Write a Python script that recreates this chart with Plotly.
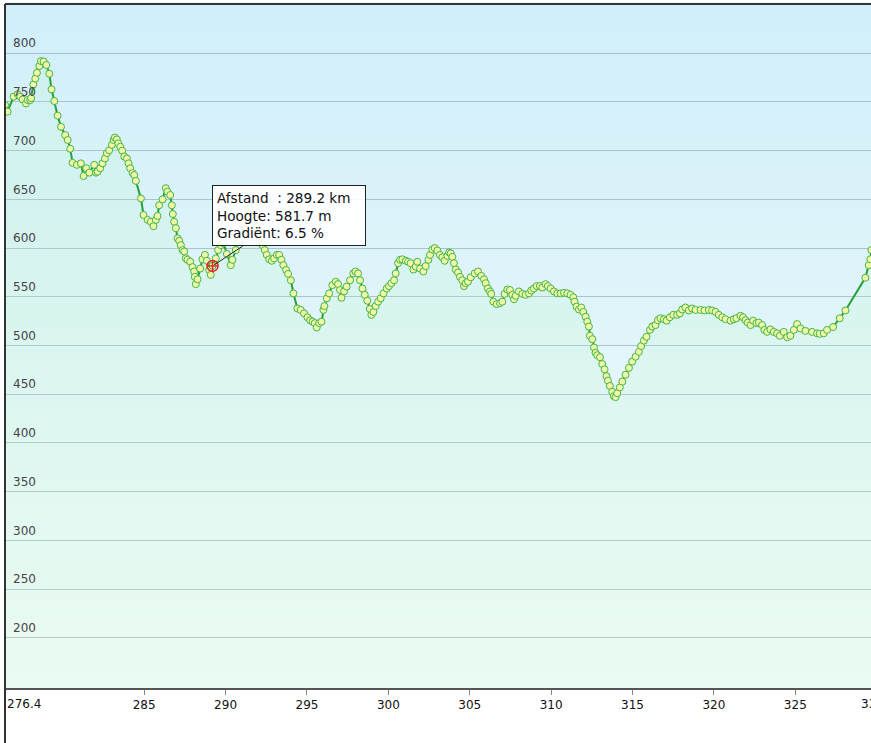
import plotly.graph_objects as go

# elevation profile, distance in km / height in m
DIST = [
    276.45, 276.61, 276.98, 277.23, 277.39, 277.53, 277.74, 277.84, 278.00, 278.05,
    278.19, 278.31, 278.41, 278.56, 278.66, 278.82, 278.99, 279.17, 279.31, 279.48,
    279.68, 279.89, 280.15, 280.30, 280.46, 280.60, 280.87, 281.11, 281.28, 281.44,
    281.63, 281.93, 282.04, 282.14, 282.30, 282.44, 282.59, 282.71, 282.85, 283.02,
    283.12, 283.20, 283.32, 283.41, 283.53, 283.65, 283.78, 283.94, 284.04, 284.14,
    284.29, 284.39, 284.49, 284.80, 284.96, 285.21, 285.41, 285.57, 285.72, 285.82,
    285.92, 286.13, 286.33, 286.43, 286.60, 286.70, 286.76, 286.84, 286.95, 287.05,
    287.15, 287.25, 287.36, 287.46, 287.56, 287.66, 287.83, 287.97, 288.07, 288.11,
    288.17, 288.28, 288.44, 288.58, 288.73, 288.85, 288.99, 289.09, 289.20, 289.40,
    289.54, 289.71, 289.87, 290.08, 290.32, 290.42, 290.63, 290.73, 290.83, 291.10,
    291.45, 291.75, 291.96, 292.12, 292.27, 292.41, 292.53, 292.68, 292.84, 292.98,
    293.15, 293.29, 293.43, 293.55, 293.72, 293.84, 294.01, 294.17, 294.41, 294.62,
    294.82, 295.03, 295.19, 295.34, 295.48, 295.60, 295.75, 295.89, 296.01, 296.07,
    296.22, 296.36, 296.56, 296.77, 296.91, 297.03, 297.12, 297.28, 297.44, 297.65,
    297.85, 297.98, 298.14, 298.26, 298.41, 298.55, 298.71, 298.86, 298.96, 299.08,
    299.22, 299.37, 299.53, 299.70, 299.90, 300.04, 300.19, 300.35, 300.45, 300.60,
    300.72, 300.86, 301.07, 301.21, 301.37, 301.54, 301.68, 301.78, 301.95, 302.15,
    302.29, 302.46, 302.56, 302.70, 302.85, 303.01, 303.17, 303.32, 303.46, 303.62,
    303.73, 303.83, 303.93, 304.03, 304.14, 304.28, 304.40, 304.54, 304.65, 304.75,
    304.89, 305.06, 305.30, 305.51, 305.71, 305.88, 305.98, 306.12, 306.24, 306.32,
    306.45, 306.65, 306.86, 307.00, 307.14, 307.31, 307.47, 307.61, 307.72, 307.82,
    308.02, 308.23, 308.43, 308.64, 308.78, 308.94, 309.11, 309.31, 309.46, 309.66,
    309.80, 309.97, 310.17, 310.38, 310.58, 310.79, 310.99, 311.19, 311.36, 311.44,
    311.56, 311.71, 311.85, 311.97, 312.12, 312.22, 312.32, 312.38, 312.53, 312.63,
    312.73, 312.83, 313.00, 313.14, 313.28, 313.40, 313.49, 313.61, 313.75, 313.85,
    313.96, 314.06, 314.22, 314.37, 314.57, 314.78, 314.98, 315.19, 315.39, 315.53,
    315.70, 315.86, 316.07, 316.21, 316.41, 316.56, 316.72, 316.93, 317.09, 317.29,
    317.50, 317.74, 317.91, 318.05, 318.25, 318.46, 318.66, 318.87, 319.18, 319.42,
    319.69, 319.89, 320.10, 320.30, 320.51, 320.71, 321.02, 321.22, 321.38, 321.63,
    321.79, 321.94, 322.08, 322.25, 322.41, 322.61, 322.76, 322.96, 323.10, 323.27,
    323.47, 323.68, 323.88, 324.05, 324.29, 324.50, 324.70, 324.91, 325.11, 325.32,
    325.62, 326.03, 326.34, 326.50, 326.75, 326.95, 327.32, 327.73, 328.08, 329.30,
    329.51, 329.61, 329.67,
]
ELEV = [
    747.0, 740.0, 755.5, 758.0, 755.5, 752.5, 748.5, 752.0, 752.0, 754.0,
    768.0, 774.0, 780.0, 787.0, 792.0, 791.5, 788.0, 779.0, 763.0, 751.0,
    736.0, 724.5, 716.0, 711.0, 702.0, 687.5, 685.5, 687.0, 674.0, 682.0,
    677.5, 685.5, 677.5, 678.5, 682.0, 687.0, 692.0, 697.5, 700.5, 706.0,
    711.0, 713.5, 711.5, 707.5, 704.0, 700.0, 694.0, 692.0, 687.0, 682.0,
    677.0, 675.0, 669.0, 651.0, 634.0, 629.0, 627.0, 622.5, 629.0, 633.0,
    644.0, 650.0, 661.5, 658.0, 654.5, 644.0, 635.0, 627.0, 620.5, 610.0,
    607.5, 603.0, 598.0, 596.5, 589.5, 588.0, 586.0, 580.5, 576.0, 570.5,
    563.0, 568.0, 579.0, 588.5, 593.0, 587.0, 577.5, 572.5, 581.7, 589.5,
    598.0, 603.0, 605.0, 594.0, 582.5, 588.0, 598.0, 606.5, 608.5, 625.0,
    641.0, 630.5, 622.0, 611.0, 603.0, 598.0, 593.0, 588.5, 587.0, 589.5,
    593.0, 593.0, 588.0, 582.5, 577.5, 573.5, 567.0, 553.5, 538.0, 536.5,
    533.0, 529.0, 526.0, 524.5, 523.0, 518.5, 523.0, 524.5, 536.5, 540.5,
    548.5, 553.5, 562.0, 565.5, 563.0, 557.0, 549.0, 555.5, 560.5, 567.0,
    574.0, 576.0, 574.0, 567.0, 558.5, 552.0, 546.0, 537.5, 531.5, 534.5,
    540.5, 545.0, 548.5, 553.5, 558.5, 561.0, 564.0, 567.0, 574.0, 584.5,
    588.0, 588.5, 587.0, 586.0, 584.5, 578.0, 581.0, 586.0, 579.0, 576.0,
    581.5, 588.0, 593.0, 598.5, 600.0, 597.5, 593.0, 590.5, 587.0, 592.0,
    595.5, 594.5, 591.0, 584.5, 578.0, 575.0, 570.5, 567.0, 561.0, 564.0,
    565.5, 570.0, 574.0, 576.0, 571.5, 568.0, 564.0, 558.5, 555.5, 553.0,
    545.0, 542.5, 543.5, 545.0, 553.0, 557.5, 557.0, 552.0, 547.5, 551.0,
    555.5, 553.0, 552.0, 553.5, 556.5, 558.5, 561.0, 561.0, 559.5, 563.0,
    561.0, 558.5, 555.5, 553.5, 553.5, 554.0, 553.5, 552.0, 549.5, 545.0,
    540.0, 537.0, 539.0, 534.5, 529.5, 524.5, 519.5, 510.0, 506.5, 498.0,
    492.5, 490.0, 488.0, 481.0, 475.5, 468.5, 464.0, 458.5, 452.5, 448.0,
    447.0, 451.0, 457.0, 463.0, 470.0, 477.0, 483.5, 488.5, 493.5, 499.5,
    505.0, 509.0, 516.0, 519.5, 521.0, 526.0, 528.0, 527.0, 525.5, 529.0,
    531.5, 531.5, 533.0, 537.0, 539.0, 536.0, 538.0, 536.5, 536.5, 536.0,
    536.5, 536.0, 534.5, 531.5, 529.0, 527.0, 525.5, 527.0, 528.0, 530.5,
    529.0, 526.0, 523.5, 521.0, 525.5, 523.0, 523.5, 521.0, 516.0, 514.0,
    516.5, 514.0, 512.5, 510.0, 514.0, 508.5, 510.0, 516.0, 522.0, 517.5,
    515.0, 514.0, 512.5, 512.0, 512.5, 516.0, 519.0, 528.0, 536.0, 569.5,
    582.5, 588.5, 598.0,
]

X_TICKS = [285, 290, 295, 300, 305, 310, 315, 320, 325]
Y_TICKS = [200, 250, 300, 350, 400, 450, 500, 550, 600, 650, 700, 750, 800]
X_START_LABEL = "276.4"
X_END_LABEL = "330"

# selected point (tooltip)
TIP_KM = 289.2
TIP_ELEV = 581.7
TIP_GRADIENT = 6.5

X_RANGE = [276.45, 329.65]
Y_RANGE = [148.4, 850.6]

BG_TOP = (208, 239, 250)
BG_BOTTOM = (244, 252, 251)
FONT = "DejaVu Sans"

fig = go.Figure()

fig.add_trace(go.Scatter(
    x=DIST, y=ELEV,
    mode="lines+markers",
    fill="tozeroy",
    fillcolor="rgba(180,250,190,0.15)",
    line=dict(color="#27a03a", width=2),
    marker=dict(size=7, color="#f0f8a8", line=dict(color="#45b549", width=1)),
    hoverinfo="skip",
    showlegend=False,
))

fig.add_trace(go.Scatter(
    x=[TIP_KM], y=[TIP_ELEV],
    mode="markers",
    marker=dict(symbol="circle-cross-open", size=11, color="#e02828",
                line=dict(color="#e02828", width=1.5)),
    hoverinfo="skip",
    showlegend=False,
))

# vertical background gradient, built from thin bands below the grid
bands = []
n = 60
for i in range(n):
    t = (i + 0.5) / n
    c = [round(BG_BOTTOM[k] + (BG_TOP[k] - BG_BOTTOM[k]) * t) for k in range(3)]
    bands.append(dict(
        type="rect", xref="paper", yref="paper",
        x0=0, x1=1, y0=i / n, y1=(i + 1) / n + 0.002,
        fillcolor="rgb(%d,%d,%d)" % tuple(c),
        line=dict(width=0), layer="below",
    ))

borders = [
    dict(type="line", xref="paper", yref="paper", x0=0, x1=1.01, y0=1, y1=1,
         line=dict(color="#333333", width=2), layer="above"),
    dict(type="line", xref="paper", yref="paper", x0=0, x1=0, y0=1, y1=-0.1,
         line=dict(color="#333333", width=2), layer="above"),
]

tip_text = ("Afstand\u00a0 : %.1f km<br>Hoogte: %.1f m<br>Gradiënt: %.1f %%"
            % (TIP_KM, TIP_ELEV, TIP_GRADIENT))

fig.update_layout(
    width=871, height=743,
    margin=dict(l=5, r=0, t=4, b=55),
    paper_bgcolor="white",
    plot_bgcolor="rgb(%d,%d,%d)" % BG_BOTTOM,
    font=dict(family=FONT, size=12, color="#111111"),
    shapes=bands + borders,
    annotations=[
        dict(x=TIP_KM, y=TIP_ELEV, xref="x", yref="y", text=tip_text,
             showarrow=True, arrowhead=0, arrowwidth=1, arrowcolor="#222222",
             ax=76, ay=-50, standoff=2, align="left", width=144,
             bgcolor="rgba(255,255,255,0.9)", bordercolor="#222222",
             borderwidth=1, borderpad=4,
             font=dict(family=FONT, size=13.6, color="#111111")),
        dict(x=0, y=-0.0234, xref="paper", yref="paper", text=X_START_LABEL,
             showarrow=False, xanchor="left", yanchor="middle",
             font=dict(family=FONT, size=12, color="#111111")),
        dict(x=1.0023, y=-0.0234, xref="paper", yref="paper", text=X_END_LABEL,
             showarrow=False, xanchor="center", yanchor="middle",
             font=dict(family=FONT, size=12, color="#111111")),
    ],
    xaxis=dict(
        range=X_RANGE, tickvals=X_TICKS, ticks="outside", ticklen=5,
        tickcolor="#888888", showline=True, linecolor="#555555", linewidth=2,
        showgrid=False, zeroline=False, fixedrange=True,
    ),
    yaxis=dict(
        range=Y_RANGE, tickvals=Y_TICKS, ticks="", showline=False,
        showgrid=True, gridcolor="rgba(110,135,145,0.45)", gridwidth=1,
        zeroline=False, ticklabelposition="inside", ticklabelshift=-10,
        ticklabelstandoff=5, fixedrange=True,
    ),
)

fig.write_html("out.html", config={"displayModeBar": False},
               post_script="document.body.style.margin='0';")
